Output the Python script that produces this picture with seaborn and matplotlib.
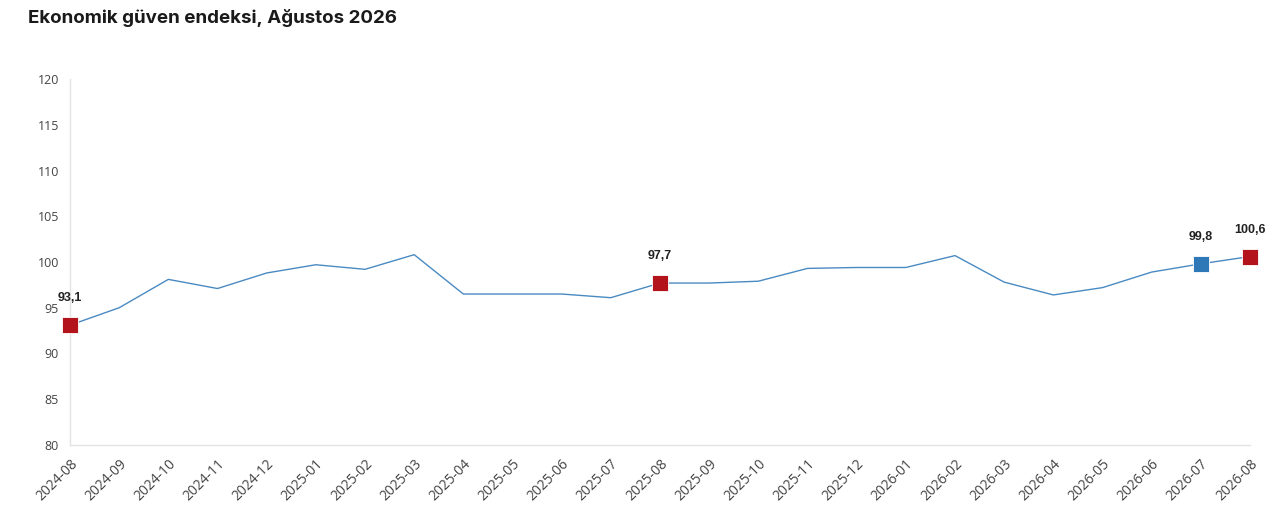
import numpy as np
import pandas as pd
import matplotlib
matplotlib.use('Agg')
import matplotlib.pyplot as plt
import seaborn as sns

# veriler
months = ['2024-08', '2024-09', '2024-10', '2024-11', '2024-12', '2025-01', '2025-02',
          '2025-03', '2025-04', '2025-05', '2025-06', '2025-07', '2025-08', '2025-09',
          '2025-10', '2025-11', '2025-12', '2026-01', '2026-02', '2026-03', '2026-04',
          '2026-05', '2026-06', '2026-07', '2026-08']
values = [93.1, 95.0, 98.1, 97.1, 98.8, 99.7, 99.2, 100.8, 96.5, 96.5, 96.5, 96.1, 97.7,
          97.7, 97.9, 99.3, 99.4, 99.4, 100.7, 97.8, 96.4, 97.2, 98.9, 99.8, 100.6]
highlight_months = ['2024-08', '2025-08', '2026-07', '2026-08']
highlight_colors = ['#b3141c', '#b3141c', '#2e78b8', '#b3141c']
y_ticks = [80, 85, 90, 95, 100, 105, 110, 115, 120]

df = pd.DataFrame({'ay': months, 'deger': values})
df['x'] = np.arange(len(df))

sns.set_style('white')
plt.rcParams['font.family'] = ['Open Sans', 'DejaVu Sans']

fig = plt.figure(figsize=(12.8, 5.19), dpi=100)
ax = fig.add_axes([70 / 1280, 1 - 445 / 519, 1180 / 1280, 366 / 519])

sns.lineplot(data=df, x='x', y='deger', ax=ax, color='#4a8ac2', linewidth=1.0)

for m, c in zip(highlight_months, highlight_colors):
    row = df[df['ay'] == m].iloc[0]
    ax.plot(row['x'], row['deger'], marker='s', markersize=12, color=c,
            markeredgecolor='white', markeredgewidth=0.6, clip_on=False, zorder=5)
    ax.annotate(f"{row['deger']:.1f}".replace('.', ','), (row['x'], row['deger']),
                xytext=(0, 15), textcoords='offset points', ha='center', va='bottom',
                fontsize=9, fontweight='bold', color='#222222',
                family=['Liberation Sans', 'DejaVu Sans'])

ax.set_xlim(0, len(months) - 1)
ax.set_ylim(80, 120)
ax.set_yticks(y_ticks)
ax.set_yticklabels([str(t) for t in y_ticks], fontsize=9, color='#444444')
ax.set_xticks(df['x'])
ax.set_xticklabels(months, rotation=45, ha='right', rotation_mode='anchor',
                   fontsize=10, color='#444444')
ax.tick_params(axis='both', length=0, pad=8)
ax.set_xlabel('')
ax.set_ylabel('')

for s in ['top', 'right']:
    ax.spines[s].set_visible(False)
for s in ['left', 'bottom']:
    ax.spines[s].set_color('#e3e3e3')
    ax.spines[s].set_linewidth(1.0)

fig.text(28 / 1280, 1 - 18 / 519, 'Ekonomik güven endeksi, Ağustos 2026',
         fontsize=13.5, fontweight='bold', color='#1a1a1a', va='center', ha='left',
         family=['Inter', 'DejaVu Sans'])

fig.savefig('out.png', dpi=100, facecolor='white')
